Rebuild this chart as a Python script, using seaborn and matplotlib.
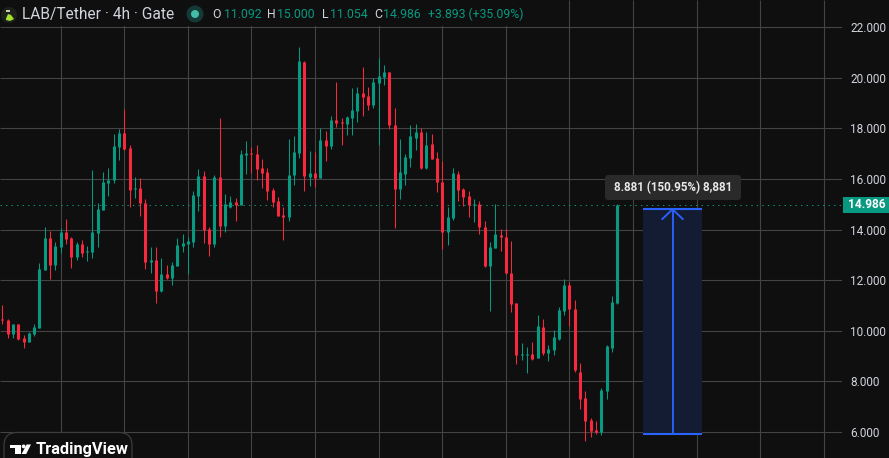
import matplotlib
matplotlib.use("Agg")
import matplotlib.pyplot as plt
from matplotlib.patches import Circle, FancyBboxPatch, Polygon, Rectangle
import numpy as np
import pandas as pd
import seaborn as sns

# 4h candles, LAB/Tether on Gate
opens = [10.45, 10.41, 9.85, 10.25, 9.70, 9.54, 9.85, 10.09, 12.39, 13.66,
         12.59, 13.31, 13.90, 13.66, 12.91, 13.43, 13.11, 13.11, 13.86, 14.78,
         15.85, 15.97, 17.28, 17.83, 17.24, 15.61, 15.65, 15.05, 12.71, 12.79,
         11.56, 12.24, 12.08, 12.55, 13.35, 13.43, 13.51, 15.33, 16.13, 14.02,
         13.43, 16.06, 14.12, 14.91, 15.07, 14.95, 16.93, 17.01, 16.97, 16.45,
         16.29, 15.58, 15.11, 14.59, 14.51, 16.14, 17.01, 20.61, 16.06, 16.25,
         16.02, 17.56, 17.32, 18.35, 18.27, 18.19, 18.43, 18.67, 19.42, 19.30,
         18.94, 19.78, 20.05, 20.25, 18.15, 15.62, 16.21, 16.81, 17.64, 17.84,
         16.45, 17.38, 16.83, 15.87, 13.89, 14.45, 16.19, 15.60, 15.32, 14.96,
         15.00, 14.09, 12.55, 13.26, 13.78, 13.70, 12.27, 11.08, 9.02, 9.02,
         9.06, 8.91, 10.13, 9.10, 9.22, 9.66, 10.77, 11.80, 10.85, 8.36,
         7.33, 6.46, 6.07, 5.99, 7.61, 9.30, 11.092]
highs = [11.01, 10.45, 10.25, 10.25, 9.81, 9.93, 10.25, 12.67, 14.10, 13.94,
         13.51, 14.06, 14.42, 13.70, 13.51, 13.59, 13.35, 16.36, 15.05, 16.28,
         16.44, 17.79, 17.99, 18.78, 17.36, 16.09, 16.05, 15.21, 13.31, 13.31,
         12.87, 12.59, 12.71, 13.66, 13.82, 13.70, 15.53, 16.40, 16.32, 14.10,
         16.17, 18.43, 15.42, 15.34, 15.26, 17.16, 17.52, 17.28, 17.36, 16.77,
         16.45, 15.66, 15.30, 14.91, 17.60, 17.68, 21.24, 20.65, 17.09, 17.05,
         18.00, 17.88, 18.51, 19.85, 18.43, 18.51, 19.58, 19.62, 20.41, 19.62,
         20.01, 20.80, 20.49, 20.25, 18.79, 17.60, 16.97, 18.15, 18.19, 18.03,
         17.84, 17.78, 17.06, 16.71, 14.88, 16.43, 16.31, 15.64, 15.52, 15.20,
         15.12, 14.33, 13.50, 14.99, 14.01, 14.01, 13.54, 11.08, 9.50, 9.34,
         9.54, 10.61, 10.45, 9.42, 10.01, 10.92, 12.03, 11.91, 11.20, 8.71,
         7.61, 6.54, 6.42, 7.72, 9.42, 11.36, 15.000]
lows = [10.25, 9.70, 9.70, 9.62, 9.30, 9.54, 9.78, 10.09, 12.39, 12.04,
        12.39, 13.07, 13.43, 12.47, 12.79, 12.91, 12.75, 12.87, 13.31, 14.78,
        15.33, 15.85, 16.76, 17.16, 14.90, 15.25, 14.54, 12.43, 12.28, 11.08,
        11.52, 12.04, 11.80, 12.55, 13.11, 12.24, 13.31, 14.74, 13.47, 12.95,
        13.31, 13.72, 13.92, 14.87, 14.32, 14.95, 16.21, 16.25, 15.94, 15.66,
        15.15, 14.91, 14.55, 13.60, 14.35, 15.78, 16.81, 15.54, 15.74, 15.70,
        16.02, 16.73, 17.20, 18.07, 17.36, 17.72, 17.72, 18.27, 18.51, 18.71,
        18.79, 17.36, 19.70, 17.96, 14.04, 15.19, 15.78, 16.49, 17.16, 16.41,
        16.41, 16.79, 15.48, 13.22, 13.38, 14.37, 15.12, 14.92, 14.49, 14.29,
        13.82, 12.51, 10.77, 13.26, 13.14, 12.23, 10.73, 8.67, 8.83, 8.31,
        8.83, 8.91, 9.02, 8.79, 9.02, 9.62, 10.61, 10.17, 8.35, 6.89,
        5.63, 5.79, 5.91, 5.87, 7.29, 9.15, 11.054]
closes = [10.41, 9.85, 10.25, 9.66, 9.54, 9.89, 10.13, 12.43, 13.66, 12.59,
          13.35, 13.90, 13.62, 12.91, 13.43, 13.07, 13.15, 13.90, 14.82, 15.89,
          15.97, 17.32, 17.83, 17.20, 15.57, 15.65, 15.05, 12.71, 12.79, 11.56,
          12.24, 12.08, 12.59, 13.39, 13.47, 13.55, 15.37, 16.13, 13.98, 13.43,
          16.09, 14.12, 14.99, 15.07, 14.95, 16.97, 17.01, 16.97, 16.41, 16.25,
          15.54, 15.07, 14.55, 14.51, 16.14, 17.05, 20.65, 16.10, 16.25, 16.02,
          17.56, 17.32, 18.35, 18.23, 18.23, 18.47, 18.71, 19.42, 19.26, 18.94,
          19.85, 20.09, 20.25, 18.15, 15.62, 16.29, 16.85, 17.68, 17.84, 16.45,
          17.36, 16.79, 15.87, 13.89, 14.49, 16.23, 15.56, 15.28, 14.96, 15.00,
          14.09, 12.55, 13.30, 13.82, 13.70, 12.27, 11.04, 9.02, 9.06, 9.06,
          8.87, 10.17, 9.10, 9.26, 9.74, 10.81, 11.80, 10.85, 8.43, 7.29,
          6.42, 6.03, 5.99, 7.64, 9.38, 11.12, 14.986]

price_ticks = [6, 8, 10, 12, 14, 16, 18, 20, 22]
time_grid_bars = list(range(11, 156, 12))
last_close = 14.986

# price range tool: start/end bar and its two price levels
measure_bars = [120.8, 132.1]
measure_prices = [5.919, 14.800]
measure_text = "8.881 (150.95%) 8,881"

BG = "#0f0f0f"
GRID = "#444444"
UP = "#089981"
DOWN = "#f7293f"
BLUE = "#2962ff"
LIGHT = "#d1d4dc"
W, H = 889, 458

sns.set_theme(style="dark", rc={
    "figure.facecolor": BG,
    "axes.facecolor": BG,
    "savefig.facecolor": BG,
    "lines.solid_capstyle": "butt",
})
plt.rcParams["font.family"] = ["Roboto", "DejaVu Sans"]

frame = pd.DataFrame({"bar": np.arange(len(opens)), "open": opens, "high": highs,
                      "low": lows, "close": closes})
frame["direction"] = np.where(frame["close"] >= frame["open"], "up", "down")
frame["top"] = frame[["open", "close"]].max(axis=1)
frame["bottom"] = frame[["open", "close"]].min(axis=1)
palette = {"up": UP, "down": DOWN}

fig = plt.figure(figsize=(W / 100, H / 100), dpi=100)
ax = fig.add_axes([0, 0, 841.7 / W, 1])
ax.set_xlim(-0.44, 158.37)
ax.set_ylim(4.96, 23.08)

ax.set_xticks(time_grid_bars)
ax.set_xticklabels([])
ax.set_yticks(price_ticks)
ax.set_yticklabels([f"{p:.3f}" for p in price_ticks], color=LIGHT, fontsize=8.5)
ax.yaxis.tick_right()
ax.tick_params(axis="both", length=0)
ax.tick_params(axis="y", pad=6)
ax.grid(True, color=GRID, linewidth=0.8)
ax.set_axisbelow(True)
sns.despine(ax=ax, left=True, right=True, top=True, bottom=True)

# wicks and bodies as thin and thick vertical segments per candle
wicks = frame.melt(id_vars=["bar", "direction"], value_vars=["low", "high"], value_name="price")
bodies = frame.melt(id_vars=["bar", "direction"], value_vars=["bottom", "top"], value_name="price")
sns.lineplot(data=wicks, x="bar", y="price", hue="direction", units="bar", estimator=None,
             palette=palette, linewidth=0.75, legend=False, ax=ax, zorder=3)
sns.lineplot(data=bodies, x="bar", y="price", hue="direction", units="bar", estimator=None,
             palette=palette, linewidth=2.2, legend=False, ax=ax, zorder=4)
ax.set_xlabel("")
ax.set_ylabel("")

# last price line
ax.axhline(last_close, color=UP, linewidth=0.75, linestyle=(0, (1.3, 4)), zorder=2)

# price range tool
mid_bar = sum(measure_bars) / 2
ax.add_patch(Rectangle((measure_bars[0], measure_prices[0]),
                       measure_bars[1] - measure_bars[0],
                       measure_prices[1] - measure_prices[0],
                       facecolor="#141c33", edgecolor="none", zorder=2.5))
for level in measure_prices:
    ax.plot(measure_bars, [level, level], color=BLUE, linewidth=1.5, zorder=5)
ax.plot([mid_bar, mid_bar], measure_prices, color=BLUE, linewidth=1.35, zorder=5)
ax.plot([mid_bar - 2.05, mid_bar, mid_bar + 2.05],
        [measure_prices[1] - 0.41, measure_prices[1], measure_prices[1] - 0.41],
        color=BLUE, linewidth=1.35, zorder=5)


# overlay helpers in screen pixels, origin top-left
def px(x, y):
    return x / W, 1 - y / H


def put_text(x, y, text, color=LIGHT, size=8.6, weight="normal", ha="left", **kw):
    fig.text(*px(x, y), text, color=color, fontsize=size, fontweight=weight,
             ha=ha, va="center", zorder=20, **kw)


def put_patch(patch):
    patch.set_transform(pixel_transform)
    fig.add_artist(patch)


pixel_transform = matplotlib.transforms.Affine2D().scale(1 / W, -1 / H).translate(0, 1) + fig.transFigure

# legend strip
put_patch(Rectangle((0, 0), 530, 25.5, facecolor=BG, edgecolor="none", zorder=10))
put_patch(Circle((9, 15), 8, facecolor="#1c211c", edgecolor="none", zorder=11))
put_patch(Polygon([(6, 18.5), (8, 14), (11, 15), (14, 19), (10, 21), (6, 20)], closed=True,
                  facecolor="#a6e22e", edgecolor="none", zorder=12))
put_patch(Polygon([(6, 10), (10, 10), (10, 12), (6, 12)], closed=True,
                  facecolor="#c9c9b0", edgecolor="none", zorder=12))
put_text(22, 14.5, "LAB/Tether · 4h · Gate", size=11.2)
put_patch(Circle((195, 14), 8.5, facecolor="#153a35", edgecolor="none", zorder=11))
put_patch(Circle((195, 14), 4, facecolor="#42bda8", edgecolor="none", zorder=12))

ohlc_parts = [(212.3, "O", LIGHT), (224.3, "11.092", UP), (267.3, "H", LIGHT), (277.3, "15.000", UP),
              (321.7, "L", LIGHT), (330, "11.054", UP), (374, "C", LIGHT), (383.3, "14.986", UP),
              (428.3, "+3.893 (+35.09%)", UP)]
for xpos, label, colour in ohlc_parts:
    put_text(xpos, 14.5, label, color=colour, size=8.8)

# last price badge on the price scale
put_patch(Rectangle((843, 196.7), 46, 16.3, facecolor=UP, edgecolor="none", zorder=10))
put_text(866.5, 204.8, f"{last_close:.3f}", color="white", size=8.6, weight="bold", ha="center")

# range tool tooltip
put_patch(FancyBboxPatch((607, 177), 132, 21, boxstyle="round,pad=2,rounding_size=3",
                         facecolor="#2a2a2a", edgecolor="none", zorder=10))
put_text(673, 187.3, measure_text, color="#e8e8e8", size=8.4, weight="bold", ha="center")

# TradingView badge
put_patch(FancyBboxPatch((4, 432.5), 128, 40, boxstyle="round,pad=0,rounding_size=13",
                         facecolor=BG, edgecolor="#3c3c3c", linewidth=0.9, zorder=10))
put_patch(Polygon([(10, 444.5), (20.7, 444.5), (20.7, 454), (14.5, 454), (14.5, 448.3), (10, 448.3)],
                  closed=True, facecolor="white", edgecolor="none", zorder=12))
put_patch(Circle((23.6, 446.4), 1.9, facecolor="white", edgecolor="none", zorder=12))
put_patch(Polygon([(26.6, 444.5), (31, 444.5), (26.2, 454), (21.6, 454)], closed=True,
                  facecolor="white", edgecolor="none", zorder=12))
put_text(36, 449.5, "TradingView", color="white", size=11.8, weight="bold")

fig.savefig("out.png", dpi=100)
